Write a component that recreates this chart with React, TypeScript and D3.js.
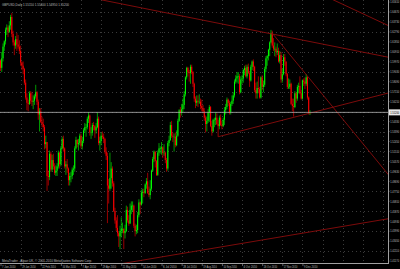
import React, { useEffect } from "react";
import * as d3 from "d3";

const W = 400;
const H = 269;

const symbolTitle = "GBPUSD,Daily";
const copyrightText = "MetaTrader - Alpari UK, \u00a9 2001-2010 MetaQuotes Software Corp.";

// Daily bars, 7 Jan 2010 (index 0) .. 17 Dec 2010 (index 246)
const opens = [
  1.6010, 1.5940, 1.6030, 1.6140, 1.6190, 1.6300, 1.6320, 1.6280, 1.6340, 1.6420,
  1.6260, 1.6180, 1.6150, 1.6210, 1.6160, 1.6140, 1.6100, 1.5990, 1.5960, 1.5930,
  1.5800, 1.5660, 1.5610, 1.5600, 1.5700, 1.5630, 1.5620, 1.5630, 1.5670, 1.5710,
  1.5620, 1.5500, 1.5530, 1.5430, 1.5410, 1.5380, 1.5220, 1.5240, 1.4920, 1.4910,
  1.5130, 1.4980, 1.5070, 1.5010, 1.4950, 1.4970, 1.5010, 1.5140, 1.5030, 1.5180,
  1.5270, 1.5180, 1.5010, 1.5030, 1.4990, 1.4880, 1.4920, 1.4920, 1.4980, 1.4990,
  1.5180, 1.5260, 1.5220, 1.5230, 1.5300, 1.5200, 1.5250, 1.5350, 1.5380, 1.5380,
  1.5460, 1.5490, 1.5330, 1.5330, 1.5400, 1.5390, 1.5350, 1.5380, 1.5460, 1.5230,
  1.5250, 1.5300, 1.5290, 1.5270, 1.5150, 1.5110, 1.4830, 1.4800, 1.4900, 1.4990,
  1.4850, 1.4590, 1.4500, 1.4430, 1.4380, 1.4350, 1.4400, 1.4420, 1.4420, 1.4380,
  1.4400, 1.4600, 1.4500, 1.4470, 1.4600, 1.4640, 1.4640, 1.4450, 1.4400, 1.4410,
  1.4550, 1.4670, 1.4650, 1.4760, 1.4770, 1.4760, 1.4840, 1.4870, 1.4760, 1.4740,
  1.4800, 1.4970, 1.5080, 1.5150, 1.5060, 1.4930, 1.5140, 1.5180, 1.5180, 1.5190,
  1.5140, 1.5140, 1.5070, 1.4990, 1.5230, 1.5260, 1.5400, 1.5300, 1.5290, 1.5290,
  1.5210, 1.5300, 1.5440, 1.5540, 1.5520, 1.5550, 1.5590, 1.5690, 1.5850, 1.5940,
  1.5900, 1.5890, 1.5950, 1.5900, 1.5790, 1.5650, 1.5610, 1.5630, 1.5620, 1.5620,
  1.5580, 1.5560, 1.5530, 1.5470, 1.5410, 1.5440, 1.5520, 1.5570, 1.5390, 1.5340,
  1.5450, 1.5450, 1.5470, 1.5410, 1.5390, 1.5470, 1.5400, 1.5390, 1.5450, 1.5540,
  1.5570, 1.5640, 1.5610, 1.5520, 1.5600, 1.5630, 1.5680, 1.5810, 1.5840, 1.5860,
  1.5860, 1.5710, 1.5830, 1.5840, 1.5920, 1.5940, 1.5860, 1.5950, 1.5890, 1.5820,
  1.5950, 1.6000, 1.5950, 1.5730, 1.5700, 1.5750, 1.5740, 1.5660, 1.5850, 1.5760,
  1.5780, 1.5930, 1.6030, 1.6050, 1.6110, 1.6180, 1.6270, 1.6150, 1.6120, 1.6120,
  1.6090, 1.6100, 1.6000, 1.6060, 1.5830, 1.5880, 1.6040, 1.6000, 1.5880, 1.5760,
  1.5760, 1.5790, 1.5600, 1.5580, 1.5570, 1.5700, 1.5650, 1.5760, 1.5770, 1.5700,
  1.5650, 1.5820, 1.5810, 1.5790, 1.5850, 1.5660, 1.5515,
];

const highs = [
  1.6020, 1.6090, 1.6170, 1.6200, 1.6320, 1.6350, 1.6340, 1.6380, 1.6440, 1.6457,
  1.6290, 1.6200, 1.6240, 1.6270, 1.6250, 1.6200, 1.6150, 1.6000, 1.6000, 1.5940,
  1.5830, 1.5700, 1.5640, 1.5720, 1.5720, 1.5710, 1.5680, 1.5690, 1.5780, 1.5720,
  1.5640, 1.5560, 1.5560, 1.5480, 1.5460, 1.5400, 1.5300, 1.5240, 1.4970, 1.5160,
  1.5150, 1.5120, 1.5130, 1.5040, 1.5020, 1.5040, 1.5160, 1.5150, 1.5200, 1.5290,
  1.5300, 1.5190, 1.5060, 1.5080, 1.5000, 1.4950, 1.4960, 1.5000, 1.5020, 1.5200,
  1.5290, 1.5270, 1.5270, 1.5320, 1.5320, 1.5290, 1.5370, 1.5420, 1.5410, 1.5480,
  1.5520, 1.5500, 1.5380, 1.5420, 1.5430, 1.5400, 1.5420, 1.5520, 1.5480, 1.5290,
  1.5330, 1.5340, 1.5320, 1.5280, 1.5190, 1.5140, 1.4890, 1.5140, 1.5050, 1.5010,
  1.4870, 1.4620, 1.4530, 1.4550, 1.4400, 1.4450, 1.4530, 1.4480, 1.4430, 1.4460,
  1.4640, 1.4630, 1.4550, 1.4660, 1.4680, 1.4680, 1.4650, 1.4470, 1.4460, 1.4580,
  1.4700, 1.4680, 1.4790, 1.4800, 1.4800, 1.4850, 1.4900, 1.4950, 1.4820, 1.4880,
  1.4980, 1.5100, 1.5160, 1.5150, 1.5070, 1.5160, 1.5230, 1.5200, 1.5240, 1.5200,
  1.5220, 1.5150, 1.5090, 1.5250, 1.5300, 1.5430, 1.5440, 1.5330, 1.5320, 1.5330,
  1.5350, 1.5460, 1.5550, 1.5570, 1.5600, 1.5650, 1.5720, 1.5860, 1.5950, 1.5950,
  1.5920, 1.5970, 1.5970, 1.5910, 1.5800, 1.5670, 1.5680, 1.5680, 1.5690, 1.5650,
  1.5640, 1.5590, 1.5560, 1.5490, 1.5480, 1.5550, 1.5590, 1.5580, 1.5440, 1.5460,
  1.5470, 1.5520, 1.5510, 1.5450, 1.5490, 1.5500, 1.5440, 1.5470, 1.5570, 1.5600,
  1.5660, 1.5650, 1.5630, 1.5620, 1.5680, 1.5710, 1.5830, 1.5870, 1.5900, 1.5900,
  1.5880, 1.5860, 1.5870, 1.5930, 1.5960, 1.5970, 1.5970, 1.5980, 1.5910, 1.5970,
  1.6010, 1.6020, 1.5960, 1.5800, 1.5810, 1.5860, 1.5760, 1.5860, 1.5870, 1.5820,
  1.5950, 1.6050, 1.6060, 1.6120, 1.6190, 1.6298, 1.6290, 1.6220, 1.6180, 1.6140,
  1.6170, 1.6130, 1.6100, 1.6090, 1.5930, 1.6070, 1.6070, 1.6000, 1.5890, 1.5840,
  1.5830, 1.5800, 1.5650, 1.5650, 1.5720, 1.5710, 1.5780, 1.5800, 1.5860, 1.5730,
  1.5830, 1.5840, 1.5850, 1.5880, 1.5860, 1.5670, 1.5540,
];

const lows = [
  1.5910, 1.5900, 1.6000, 1.6100, 1.6160, 1.6250, 1.6230, 1.6270, 1.6300, 1.6230,
  1.6150, 1.6060, 1.6120, 1.6100, 1.6120, 1.6070, 1.5960, 1.5920, 1.5880, 1.5780,
  1.5640, 1.5540, 1.5530, 1.5590, 1.5600, 1.5580, 1.5550, 1.5590, 1.5650, 1.5590,
  1.5450, 1.5340, 1.5420, 1.5380, 1.5340, 1.5170, 1.5180, 1.4780, 1.4830, 1.4880,
  1.4960, 1.4960, 1.4980, 1.4930, 1.4920, 1.4920, 1.4990, 1.4990, 1.5010, 1.5170,
  1.5150, 1.4990, 1.4930, 1.4950, 1.4830, 1.4830, 1.4860, 1.4890, 1.4930, 1.4960,
  1.5170, 1.5190, 1.5160, 1.5210, 1.5180, 1.5170, 1.5230, 1.5330, 1.5290, 1.5360,
  1.5420, 1.5300, 1.5270, 1.5300, 1.5350, 1.5280, 1.5320, 1.5370, 1.5210, 1.5160,
  1.5210, 1.5270, 1.5230, 1.5130, 1.5070, 1.4475, 1.4660, 1.4780, 1.4800, 1.4820,
  1.4580, 1.4470, 1.4400, 1.4350, 1.4250, 1.4229, 1.4340, 1.4380, 1.4230, 1.4330,
  1.4390, 1.4480, 1.4450, 1.4470, 1.4560, 1.4580, 1.4430, 1.4350, 1.4370, 1.4380,
  1.4530, 1.4560, 1.4640, 1.4660, 1.4720, 1.4750, 1.4800, 1.4750, 1.4720, 1.4700,
  1.4780, 1.4960, 1.5050, 1.5000, 1.4920, 1.4920, 1.5110, 1.5130, 1.5120, 1.5090,
  1.5110, 1.5040, 1.4960, 1.4970, 1.5200, 1.5250, 1.5280, 1.5240, 1.5150, 1.5190,
  1.5200, 1.5290, 1.5430, 1.5470, 1.5490, 1.5520, 1.5550, 1.5670, 1.5830, 1.5860,
  1.5810, 1.5790, 1.5880, 1.5760, 1.5620, 1.5560, 1.5580, 1.5570, 1.5600, 1.5550,
  1.5530, 1.5510, 1.5440, 1.5330, 1.5340, 1.5420, 1.5430, 1.5380, 1.5300, 1.5330,
  1.5380, 1.5400, 1.5400, 1.5290, 1.5360, 1.5390, 1.5360, 1.5380, 1.5400, 1.5500,
  1.5550, 1.5580, 1.5500, 1.5500, 1.5580, 1.5600, 1.5660, 1.5790, 1.5800, 1.5790,
  1.5690, 1.5700, 1.5790, 1.5800, 1.5870, 1.5850, 1.5840, 1.5880, 1.5760, 1.5810,
  1.5920, 1.5910, 1.5710, 1.5650, 1.5650, 1.5700, 1.5650, 1.5650, 1.5730, 1.5710,
  1.5760, 1.5900, 1.5960, 1.6010, 1.6050, 1.6170, 1.6130, 1.6100, 1.6050, 1.6040,
  1.6060, 1.5990, 1.5980, 1.5800, 1.5800, 1.5870, 1.5960, 1.5860, 1.5740, 1.5740,
  1.5740, 1.5590, 1.5530, 1.5480, 1.5560, 1.5610, 1.5630, 1.5700, 1.5690, 1.5640,
  1.5640, 1.5770, 1.5740, 1.5770, 1.5640, 1.5500, 1.5495,
];

const closes = [
  1.5940, 1.6030, 1.6140, 1.6190, 1.6300, 1.6320, 1.6280, 1.6340, 1.6420, 1.6260,
  1.6180, 1.6150, 1.6210, 1.6160, 1.6140, 1.6100, 1.5990, 1.5960, 1.5930, 1.5800,
  1.5660, 1.5610, 1.5600, 1.5700, 1.5630, 1.5620, 1.5630, 1.5670, 1.5710, 1.5620,
  1.5500, 1.5530, 1.5430, 1.5410, 1.5380, 1.5220, 1.5240, 1.4920, 1.4910, 1.5130,
  1.4980, 1.5070, 1.5010, 1.4950, 1.4970, 1.5010, 1.5140, 1.5030, 1.5180, 1.5270,
  1.5180, 1.5010, 1.5030, 1.4990, 1.4880, 1.4920, 1.4920, 1.4980, 1.4990, 1.5180,
  1.5260, 1.5220, 1.5230, 1.5300, 1.5200, 1.5250, 1.5350, 1.5380, 1.5380, 1.5460,
  1.5490, 1.5330, 1.5330, 1.5400, 1.5390, 1.5350, 1.5380, 1.5460, 1.5230, 1.5250,
  1.5300, 1.5290, 1.5270, 1.5150, 1.5110, 1.4830, 1.4800, 1.4900, 1.4990, 1.4850,
  1.4590, 1.4500, 1.4430, 1.4380, 1.4350, 1.4400, 1.4420, 1.4420, 1.4380, 1.4400,
  1.4600, 1.4500, 1.4470, 1.4600, 1.4640, 1.4640, 1.4450, 1.4400, 1.4410, 1.4550,
  1.4670, 1.4650, 1.4760, 1.4770, 1.4760, 1.4840, 1.4870, 1.4760, 1.4740, 1.4800,
  1.4970, 1.5080, 1.5150, 1.5060, 1.4930, 1.5140, 1.5180, 1.5180, 1.5190, 1.5140,
  1.5140, 1.5070, 1.4990, 1.5230, 1.5260, 1.5400, 1.5300, 1.5290, 1.5290, 1.5210,
  1.5300, 1.5440, 1.5540, 1.5520, 1.5550, 1.5590, 1.5690, 1.5850, 1.5940, 1.5900,
  1.5890, 1.5950, 1.5900, 1.5790, 1.5650, 1.5610, 1.5630, 1.5620, 1.5620, 1.5580,
  1.5560, 1.5530, 1.5470, 1.5410, 1.5440, 1.5520, 1.5570, 1.5390, 1.5340, 1.5450,
  1.5450, 1.5470, 1.5410, 1.5390, 1.5470, 1.5400, 1.5390, 1.5450, 1.5540, 1.5570,
  1.5640, 1.5610, 1.5520, 1.5600, 1.5630, 1.5680, 1.5810, 1.5840, 1.5860, 1.5860,
  1.5710, 1.5830, 1.5840, 1.5920, 1.5940, 1.5860, 1.5950, 1.5890, 1.5820, 1.5950,
  1.6000, 1.5950, 1.5730, 1.5700, 1.5750, 1.5740, 1.5660, 1.5850, 1.5760, 1.5780,
  1.5930, 1.6030, 1.6050, 1.6110, 1.6180, 1.6270, 1.6150, 1.6120, 1.6120, 1.6090,
  1.6100, 1.6000, 1.6060, 1.5830, 1.5880, 1.6040, 1.6000, 1.5880, 1.5760, 1.5760,
  1.5790, 1.5600, 1.5580, 1.5570, 1.5700, 1.5650, 1.5760, 1.5770, 1.5700, 1.5650,
  1.5820, 1.5810, 1.5790, 1.5850, 1.5660, 1.5515, 1.5520,
];

const priceTicks = [
  1.6561, 1.6467, 1.6373, 1.6279, 1.6185, 1.6091, 1.5997, 1.5903, 1.5809, 1.5715,
  1.5621, 1.5527, 1.5433, 1.5339, 1.5245, 1.5151, 1.5057, 1.4963, 1.4869, 1.4775,
  1.4681, 1.4587, 1.4493, 1.4399, 1.4305, 1.4211, 1.4117,
];

const dateLabels = [
  "7 Jan 2010", "29 Jan 2010", "22 Feb 2010", "16 Mar 2010", "7 Apr 2010", "29 Apr 2010",
  "21 May 2010", "14 Jun 2010", "6 Jul 2010", "28 Jul 2010", "19 Aug 2010", "10 Sep 2010",
  "4 Oct 2010", "26 Oct 2010", "17 Nov 2010", "9 Dec 2010",
];
const dateLabelBars = [0, 16, 32, 48, 64, 80, 96, 112, 128, 144, 160, 176, 192, 208, 224, 240];
const gridBars = [16, 32, 48, 64, 80, 96, 112, 128, 144, 160, 176, 192, 208, 224, 240, 256, 272, 288, 304];

// Trendlines drawn on the chart: [barIndex, price] anchors
const trendlines: [number, number][][] = [
  [[80, 1.6582], [310, 1.6036]],
  [[255, 1.6634], [310, 1.6329]],
  [[216, 1.6267], [310, 1.4908]],
  [[173, 1.5290], [310, 1.5708]],
  [[80, 1.4060], [310, 1.4520]],
];

export default function App() {
  useEffect(() => {
    document.body.style.margin = "0";
    document.body.style.background = "#000";
  }, []);

  const plotR = 388;
  const plotB = 263;
  const barStep = 1.258;
  const x = d3.scaleLinear().domain([0, 100]).range([0.5, 0.5 + 100 * barStep]);
  const pxPerUnit = 1060;
  const yTop = 1.658;
  const y = d3.scaleLinear().domain([yTop, yTop - plotB / pxPerUnit]).range([0, plotB]);

  const n = closes.length;
  const last = n - 1;
  const fmt = (v: number) => v.toFixed(5);
  const lastClose = closes[last];
  const line = d3.line<[number, number]>().x((d) => x(d[0])).y((d) => y(d[1]));

  const bull = "#00ff00";
  const bear = "#ff0000";
  const textCol = "#bdbdbd";
  const font = "'Liberation Sans', Arial, sans-serif";
  const labelX = plotR + 2.2;
  const labelFs = 2.5;

  return (
    <svg
      width={W}
      height={H}
      style={{ position: "fixed", left: 0, top: 0, background: "#000", display: "block" }}
    >
      <defs>
        <clipPath id="plot">
          <rect x={0} y={0} width={plotR} height={plotB} />
        </clipPath>
      </defs>
      <rect x={0} y={0} width={W} height={H} fill="#000" />

      {/* grid */}
      <g stroke="#4a4a4a" strokeWidth={0.8} strokeDasharray="1 3" shapeRendering="crispEdges">
        {priceTicks.map((p, i) =>
          i % 2 === 1 ? <line key={"h" + i} x1={0} x2={plotR} y1={Math.round(y(p)) + 0.5} y2={Math.round(y(p)) + 0.5} /> : null
        )}
        {gridBars.map((b) => (
          <line key={"v" + b} x1={Math.round(x(b)) + 0.5} x2={Math.round(x(b)) + 0.5} y1={0} y2={plotB} />
        ))}
      </g>

      <g clipPath="url(#plot)">
        {/* candles */}
        {closes.map((c, i) => {
          const o = opens[i];
          const up = c >= o;
          const col = up ? bull : bear;
          const cx = x(i);
          const top = y(Math.max(o, c));
          const bot = y(Math.min(o, c));
          return (
            <g key={i}>
              <line x1={cx} x2={cx} y1={y(highs[i])} y2={y(lows[i])} stroke={col} strokeWidth={0.6} />
              <rect x={cx - 0.5} y={top} width={1} height={Math.max(0.6, bot - top)} fill={col} />
            </g>
          );
        })}

        {/* trendlines */}
        {trendlines.map((t, i) => (
          <path key={"t" + i} d={line(t) || ""} stroke="#8a0c0c" strokeWidth={0.9} fill="none" />
        ))}

        {/* current price line */}
        <line x1={0} x2={plotR} y1={y(lastClose)} y2={y(lastClose)} stroke="#b0b0b0" strokeWidth={0.8} />
      </g>

      {/* axes */}
      <line x1={plotR + 0.5} x2={plotR + 0.5} y1={0} y2={plotB + 1} stroke="#a0a0a0" strokeWidth={1} shapeRendering="crispEdges" />
      <line x1={0} x2={plotR + 1} y1={plotB + 0.5} y2={plotB + 0.5} stroke="#a0a0a0" strokeWidth={1} shapeRendering="crispEdges" />

      {/* price labels */}
      <g fontFamily={font} fontSize={labelFs} fill={textCol}>
        {priceTicks.map((p, i) => (
          <g key={"p" + i}>
            <line x1={plotR} x2={plotR + 1.5} y1={y(p)} y2={y(p)} stroke="#a0a0a0" strokeWidth={0.6} />
            <text transform={`translate(${labelX},${y(p) + 1.3}) scale(1,1.5)`}>{fmt(p)}</text>
          </g>
        ))}
      </g>
      {/* current price tag */}
      <rect x={plotR + 1} y={y(lastClose) - 3} width={W - plotR - 1} height={6} fill="#e8e8e8" />
      <text transform={`translate(${labelX},${y(lastClose) + 1.3}) scale(1,1.5)`} fontFamily={font} fontSize={labelFs} fill="#000">
        {fmt(lastClose)}
      </text>

      {/* date labels */}
      <g fontFamily={font} fontSize={3.4} fill={textCol}>
        {dateLabels.map((s, k) => {
          const bx = x(dateLabelBars[k]);
          return (
            <g key={"d" + k}>
              <line x1={bx + 0.5} x2={bx + 0.5} y1={plotB} y2={plotB + 3} stroke="#a0a0a0" strokeWidth={0.6} />
              <text x={bx + 1.5} y={268.2} textLength={13.5} lengthAdjust="spacingAndGlyphs">{s}</text>
            </g>
          );
        })}
      </g>

      {/* title */}
      <text x={2} y={5.6} fontFamily={font} fontSize={4.3} fill={textCol} textLength={67} lengthAdjust="spacingAndGlyphs">
        {`${symbolTitle}  ${fmt(opens[last])} ${fmt(highs[last])} ${fmt(lows[last])} ${fmt(closes[last])}`}
      </text>

      {/* copyright */}
      <text x={2} y={261.6} fontFamily={font} fontSize={3.6} fill={textCol} textLength={90} lengthAdjust="spacingAndGlyphs">
        {copyrightText}
      </text>
    </svg>
  );
}
